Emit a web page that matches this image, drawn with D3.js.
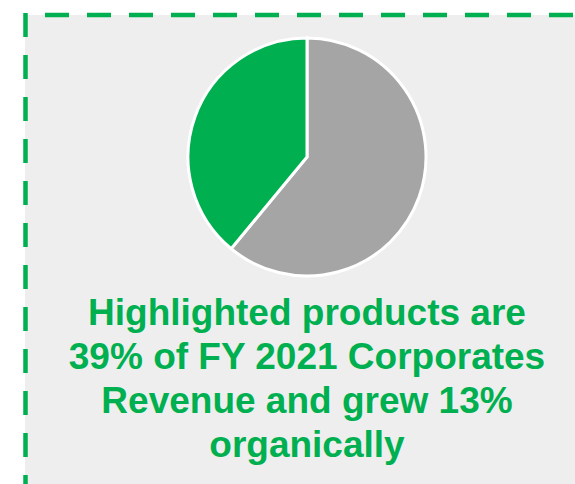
<!DOCTYPE html>
<html>
<head>
<meta charset="utf-8">
<script src="https://cdn.jsdelivr.net/npm/d3@7"></script>
<style>
  html, body { margin: 0; padding: 0; background: #ffffff; }
  svg { display: block; }
</style>
</head>
<body>
<svg id="chart" width="575" height="484"></svg>
<script>
// Revenue split of FY 2021 Corporates revenue (percent)
const segments = ["Other products", "Highlighted products"];
const shares = [61, 39];
const segmentColors = ["#a5a5a5", "#00b050"];

// Caption under the pie
const captionLines = [
  "Highlighted products are",
  "39% of FY 2021 Corporates",
  "Revenue and grew 13%",
  "organically"
];

const W = 575, H = 484;
const green = "#00b050";
const svg = d3.select("#chart");

// Panel background
svg.append("rect")
  .attr("x", 25).attr("y", 15)
  .attr("width", W - 25 + 10).attr("height", H - 15 + 10)
  .attr("fill", "#eeeeee");

// Dashed panel border (top, left, bottom)
const border = svg.append("g")
  .attr("stroke", green)
  .attr("stroke-width", 4.5)
  .attr("stroke-dasharray", "24 18")
  .attr("fill", "none");
border.append("line").attr("x1", 45).attr("y1", 15).attr("x2", W + 20).attr("y2", 15);
border.append("line").attr("x1", 25.5).attr("y1", 13).attr("x2", 25.5).attr("y2", H + 20);
border.append("line").attr("x1", 26).attr("y1", 486.5).attr("x2", W + 20).attr("y2", 486.5);

// Pie
const cx = 307, cy = 157, radius = 119;
const pie = d3.pie().sort(null).value(d => d.value);
const arc = d3.arc().innerRadius(0).outerRadius(radius);
const data = segments.map((s, i) => ({ name: s, value: shares[i] }));
const color = d3.scaleOrdinal().domain(segments).range(segmentColors);

svg.append("g")
  .attr("transform", `translate(${cx},${cy})`)
  .selectAll("path")
  .data(pie(data))
  .join("path")
  .attr("d", arc)
  .attr("fill", d => color(d.data.name))
  .attr("stroke", "#ffffff")
  .attr("stroke-width", 3)
  .attr("stroke-linejoin", "miter");

// Caption
svg.append("g")
  .selectAll("text")
  .data(captionLines)
  .join("text")
  .attr("x", cx)
  .attr("y", (d, i) => 325 + i * 44)
  .attr("text-anchor", "middle")
  .attr("fill", green)
  .attr("font-family", "'Liberation Sans', Arial, sans-serif")
  .attr("font-weight", "bold")
  .attr("font-size", 37)
  .text(d => d);
</script>
</body>
</html>
